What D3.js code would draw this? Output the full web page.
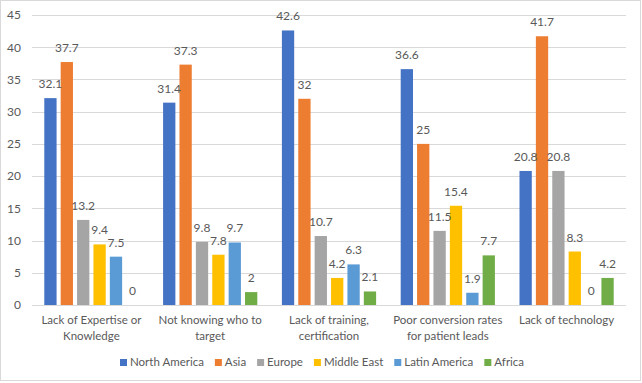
<!DOCTYPE html>
<html>
<head>
<meta charset="utf-8">
<script src="https://cdn.jsdelivr.net/npm/d3@7"></script>
<style>
  html, body { margin: 0; padding: 0; background: #fff; }
  svg { display: block; }
  text { font-family: Lato, "Liberation Sans", Arial, sans-serif; fill: #595959; }
</style>
</head>
<body>
<svg id="chart" width="642" height="383"></svg>
<script>
const categories = [
  "Lack of Expertise or Knowledge",
  "Not knowing who to target",
  "Lack of training, certification",
  "Poor conversion rates for patient leads",
  "Lack of technology"
];
const categoryLines = [
  ["Lack of Expertise or", "Knowledge"],
  ["Not knowing who to", "target"],
  ["Lack of training,", "certification"],
  ["Poor conversion rates", "for patient leads"],
  ["Lack of technology"]
];
const seriesNames = ["North America", "Asia", "Europe", "Middle East", "Latin America", "Africa"];
const northAmerica = [32.1, 31.4, 42.6, 36.6, 20.8];
const asia         = [37.7, 37.3, 32, 25, 41.7];
const europe       = [13.2, 9.8, 10.7, 11.5, 20.8];
const middleEast   = [9.4, 7.8, 4.2, 15.4, 8.3];
const latinAmerica = [7.5, 9.7, 6.3, 1.9, 0];
const africa       = [0, 2, 2.1, 7.7, 4.2];
const yTicks = [0, 5, 10, 15, 20, 25, 30, 35, 40, 45];
const colors = ["#4472C4", "#ED7D31", "#A5A5A5", "#FFC000", "#5B9BD5", "#70AD47"];

const seriesValues = [northAmerica, asia, europe, middleEast, latinAmerica, africa];

const svg = d3.select("#chart");
const plot = { left: 32, right: 626, top: 15, bottom: 305 };
const FONT = 'Lato, "Liberation Sans", Arial, sans-serif';
const FS = 11.5;

// chart border
svg.append("rect")
  .attr("x", 0.5).attr("y", 0.5)
  .attr("width", 640).attr("height", 380)
  .attr("fill", "#fff").attr("stroke", "#D9D9D9").attr("stroke-width", 1);

const y = d3.scaleLinear().domain([0, 45]).range([plot.bottom, plot.top]);
const x0 = d3.scaleBand().domain(categories).range([plot.left, plot.right]).padding(0);
const x1 = d3.scaleBand().domain(seriesNames).range([0, x0.bandwidth()])
  .paddingInner(0.25).paddingOuter(0.75);

// gridlines
svg.append("g").selectAll("line").data(yTicks).join("line")
  .attr("x1", plot.left).attr("x2", plot.right)
  .attr("y1", d => Math.round(y(d)) + 0.5).attr("y2", d => Math.round(y(d)) + 0.5)
  .attr("stroke", "#D9D9D9").attr("stroke-width", 1);

// y axis labels
const yAxis = d3.axisLeft(y).tickValues(yTicks).tickSize(0).tickPadding(0);
const yg = svg.append("g").attr("transform", `translate(${plot.left - 11},0)`).call(yAxis);
yg.select(".domain").remove();
yg.selectAll("text").attr("font-size", 12).attr("fill", "#595959")
  .style("font-family", FONT);

// bars
const groups = svg.append("g").selectAll("g").data(categories).join("g")
  .attr("transform", d => `translate(${x0(d)},0)`);

groups.each(function(cat, ci) {
  const g = d3.select(this);
  const data = seriesNames.map((s, si) => ({ s, si, v: seriesValues[si][ci] }));
  g.selectAll("rect").data(data).join("rect")
    .attr("x", d => x1(d.s))
    .attr("width", x1.bandwidth())
    .attr("y", d => y(d.v))
    .attr("height", d => y(0) - y(d.v))
    .attr("fill", d => colors[d.si]);
  g.selectAll("text").data(data).join("text")
    .attr("x", d => x1(d.s) + x1.bandwidth() / 2)
    .attr("y", d => y(d.v) - 10)
    .attr("text-anchor", "middle")
    .attr("font-size", 12)
    .text(d => d.v);
});

// x axis line (baseline)
svg.append("line")
  .attr("x1", plot.left).attr("x2", plot.right)
  .attr("y1", Math.round(y(0)) + 0.5).attr("y2", Math.round(y(0)) + 0.5)
  .attr("stroke", "#D9D9D9");

// category labels
const catG = svg.append("g").selectAll("text").data(categories).join("text")
  .attr("text-anchor", "middle")
  .attr("font-size", FS)
  .attr("x", d => x0(d) + x0.bandwidth() / 2)
  .attr("y", 324);
catG.each(function(d, i) {
  const t = d3.select(this);
  categoryLines[i].forEach((line, li) => {
    t.append("tspan")
      .attr("x", x0(d) + x0.bandwidth() / 2)
      .attr("dy", li === 0 ? 0 : 15.5)
      .text(line);
  });
});

// legend
const legend = svg.append("g");
const items = legend.selectAll("g").data(seriesNames).join("g");
items.append("rect").attr("width", 7).attr("height", 7).attr("y", -6)
  .attr("fill", (d, i) => colors[i]);
items.append("text").attr("x", 10).attr("y", 0.5).attr("font-size", FS).text(d => d);
const widths = [];
items.each(function() { widths.push(this.getBBox().width); });
const gap = 11;
let cx = 120;
items.attr("transform", (d, i) => {
  const t = `translate(${cx},365)`;
  cx += widths[i] + gap;
  return t;
});
</script>
</body>
</html>
